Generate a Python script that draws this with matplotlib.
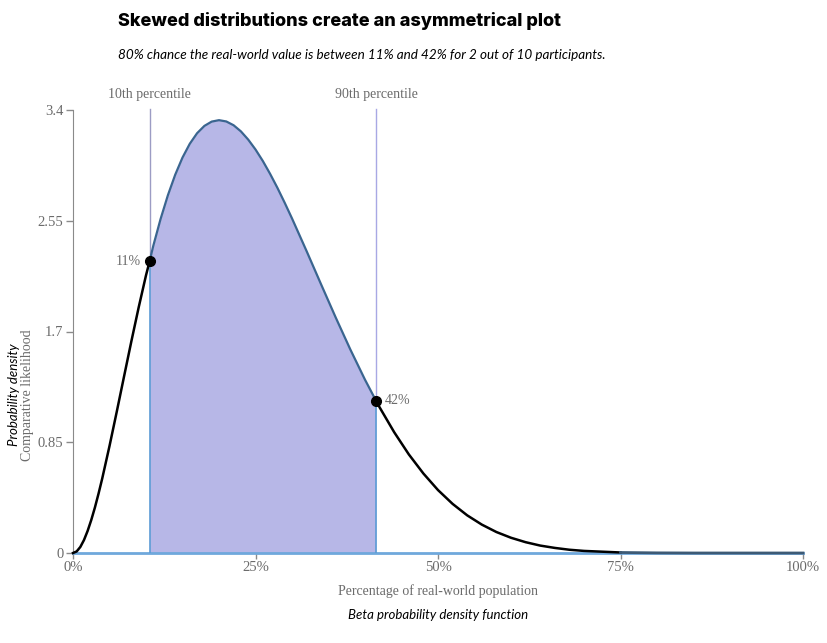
import matplotlib.pyplot as plt
import numpy as np

# share of real-world population and beta density
share = [0.00, 0.005, 0.01, 0.015, 0.02, 0.025, 0.03, 0.035, 0.04, 0.05, 0.06, 0.07, 0.08, 0.09,
         0.10, 0.11, 0.12, 0.13, 0.14, 0.15, 0.16, 0.17, 0.18, 0.19,
         0.20, 0.21, 0.22, 0.23, 0.24, 0.25, 0.26, 0.27, 0.28, 0.29,
         0.30, 0.32, 0.34, 0.36, 0.38, 0.40, 0.42, 0.44, 0.46, 0.48,
         0.50, 0.52, 0.54, 0.56, 0.58, 0.60, 0.62, 0.64, 0.66, 0.68,
         0.70, 0.75, 0.80, 0.85, 0.90, 0.95, 1.00]
density = [0.000, 0.012, 0.046, 0.099, 0.169, 0.253, 0.349, 0.456, 0.571, 0.821, 1.086, 1.357, 1.626, 1.886,
           2.131, 2.358, 2.564, 2.746, 2.903, 3.035, 3.141, 3.222, 3.278, 3.311,
           3.322, 3.312, 3.283, 3.236, 3.173, 3.097, 3.009, 2.910, 2.803, 2.688,
           2.568, 2.317, 2.060, 1.806, 1.561, 1.330, 1.118, 0.927, 0.757, 0.610,
           0.483, 0.377, 0.289, 0.218, 0.161, 0.117, 0.083, 0.057, 0.039, 0.025,
           0.016, 0.004, 0.001, 0.000, 0.000, 0.000, 0.000]

# percentile markers
p_names = ["10th percentile", "90th percentile"]
p_share = [0.105, 0.415]
p_density = [2.24, 1.17]
p_labels = ["11%", "42%"]

yticks = [0, 0.85, 1.7, 2.55, 3.4]
xticks = [0, 0.25, 0.5, 0.75, 1.0]
xtick_labels = ["0%", "25%", "50%", "75%", "100%"]

serif = "Liberation Serif"
grey = "#6b6b6b"

x = np.array(share + p_share)
y = np.array(density + p_density)
order = np.argsort(x)
x, y = x[order], y[order]

fig = plt.figure(figsize=(8.28, 6.43), dpi=100)
ax = fig.add_axes([73/828, 90/643, 730/828, 443/643])

# shaded 80% band
inside = (x >= p_share[0]) & (x <= p_share[1])
ax.fill_between(x[inside], 0, y[inside], color="#b7b7e7", lw=0)
ax.plot(x[inside], y[inside], color="#3a6590", lw=1.6, zorder=3)
for ps, pd in zip(p_share, p_density):
    ax.plot([ps, ps], [0, pd], color="#5b9bd5", lw=1.2, zorder=3)

# percentile guide lines above the curve
for i, (ps, pd) in enumerate(zip(p_share, p_density)):
    c = "#9c9cc4" if i == 0 else "#a8a8e4"
    ax.plot([ps, ps], [pd, 3.41], color=c, lw=1, clip_on=False, zorder=2)
    ax.text(ps, 3.47, p_names[i], ha="center", va="bottom", fontsize=10,
            family=serif, color=grey)

# baseline
ax.plot([0, 1], [0, 0], color="#6fa8dc", lw=2, zorder=2, clip_on=False)

# curve outside band
left = x <= p_share[0]
right = x >= p_share[1]
ax.plot(x[left], y[left], color="black", lw=1.8, zorder=4, clip_on=False)
tail = right & (x <= 0.78)
ax.plot(x[tail], y[tail], color="black", lw=1.8, zorder=4, clip_on=False)
far = right & (x >= 0.75)
ax.plot(x[far], y[far], color="#3d5a75", lw=2, zorder=4, clip_on=False)

# markers
ax.plot(p_share, p_density, "o", color="black", ms=7, zorder=5)
ax.text(p_share[0] - 0.012, p_density[0], p_labels[0], ha="right", va="center",
        fontsize=10, family=serif, color=grey)
ax.text(p_share[1] + 0.012, p_density[1], p_labels[1], ha="left", va="center",
        fontsize=10, family=serif, color=grey)

ax.set_xlim(0, 1)
ax.set_ylim(0, 3.4)
for s in ["top", "right", "bottom"]:
    ax.spines[s].set_visible(False)
ax.spines["left"].set_color("#8a8a8a")
ax.set_yticks(yticks)
ax.set_yticklabels(["0", "0.85", "1.7", "2.55", "3.4"])
ax.set_xticks(xticks)
ax.set_xticklabels(xtick_labels)
ax.tick_params(axis="both", colors="#8a8a8a", labelcolor=grey, length=5, width=1)
ax.tick_params(axis="x", length=4, pad=2)
ax.tick_params(axis="y", pad=2)
for lab in ax.get_xticklabels() + ax.get_yticklabels():
    lab.set_family(serif)
    lab.set_fontsize(10.5)

# axis titles
fig.text(438/828, 1 - 591/643, "Percentage of real-world population", ha="center",
         va="center", fontsize=10, family=serif, color=grey)
fig.text(438/828, 1 - 615/643, "Beta probability density function", ha="center",
         va="center", fontsize=9.5, family="Lato", style="italic", color="black")
fig.text(14/828, 1 - 395/643, "Probability density", rotation=90, ha="center",
         va="center", fontsize=9.5, family="Lato", style="italic", color="black")
fig.text(28/828, 1 - 395/643, "Comparative likelihood", rotation=90, ha="center",
         va="center", fontsize=10, family=serif, color=grey)

# heading
fig.text(118/828, 1 - 21/643, "Skewed distributions create an asymmetrical plot",
         ha="left", va="center", fontsize=13, family="Inter", weight="heavy",
         color="black")
fig.text(118/828, 1 - 55/643,
         "80% chance the real-world value is between 11% and 42% for 2 out of 10 participants.",
         ha="left", va="center", fontsize=9.7, family="Lato", style="italic",
         color="black")

fig.savefig("out.png", dpi=100)
